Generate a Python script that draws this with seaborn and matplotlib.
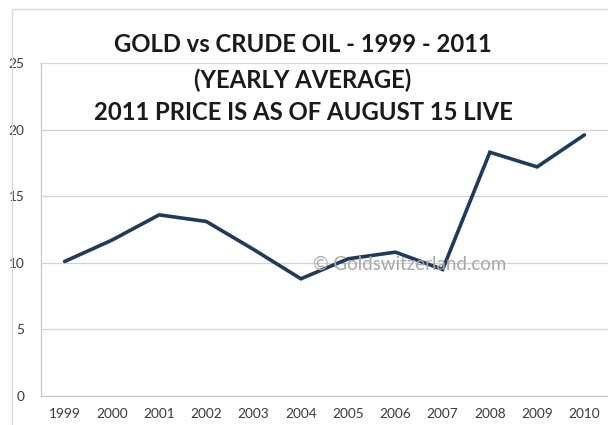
import matplotlib
matplotlib.use("Agg")
import matplotlib.pyplot as plt
import seaborn as sns
import pandas as pd
import numpy as np
from matplotlib.lines import Line2D

years = ["1999", "2000", "2001", "2002", "2003", "2004", "2005",
         "2006", "2007", "2008", "2009", "2010"]
ratio = [10.1, 11.7, 13.6, 13.1, 11.0, 8.8, 10.3, 10.8, 9.5, 18.3, 17.2, 19.6]
yticks = [0, 5, 10, 15, 20, 25]
title_lines = ["GOLD vs CRUDE OIL - 1999 - 2011",
               "(YEARLY AVERAGE)",
               "2011 PRICE IS AS OF AUGUST 15 LIVE"]
watermark = "© Goldswitzerland.com"

df = pd.DataFrame({"x": np.arange(len(years)), "ratio": ratio})

sns.set_theme(style="white")
plt.rcParams["font.family"] = ["Lato", "DejaVu Sans"]

W, H = 608, 425
fig = plt.figure(figsize=(W / 100, H / 100), dpi=100)
fig.patch.set_facecolor("white")
ax = fig.add_axes([41 / W, 1 - 396 / H, (W - 41) / W, (396 - 63) / H])

sns.lineplot(data=df, x="x", y="ratio", ax=ax, color="#203A5C",
             linewidth=2.6, solid_joinstyle="miter")

ax.set_xlim(-0.5, 11.45)
ax.set_ylim(0, 25)
ax.set_yticks(yticks)
ax.set_yticklabels([str(v) for v in yticks])
ax.set_xticks(np.arange(len(years)))
ax.set_xticklabels(years)
ax.set_xticks(np.arange(-0.5, len(years), 1), minor=True)
ax.tick_params(axis="x", which="major", length=0, pad=9, labelsize=9.8,
               labelcolor="#3a3a3a")
ax.tick_params(axis="x", which="minor", length=4, width=0.8, color="#c8c8c8",
               direction="out")
ax.tick_params(axis="y", which="major", length=4, width=0.8, color="#c8c8c8",
               pad=8, labelsize=9.8, labelcolor="#3a3a3a")
ax.set_xlabel("")
ax.set_ylabel("")
ax.grid(axis="y", color="#d4d4d4", linewidth=0.9)
ax.set_axisbelow(True)
for s in ["top", "right"]:
    ax.spines[s].set_visible(False)
for s in ["left", "bottom"]:
    ax.spines[s].set_color("#c8c8c8")
    ax.spines[s].set_linewidth(0.9)

# watermark
fig.text(410 / W, 1 - 264 / H, watermark, ha="center", va="center",
         fontsize=13.5, color="#a8a8a8", zorder=0)

# title
ys = [44, 80, 112]
for t, y in zip(title_lines, ys):
    fig.text(303 / W, 1 - y / H, t, ha="center", va="center",
             fontsize=17.2, fontweight="bold", color="#1a1a1a")

# chart frame
fig.add_artist(Line2D([12 / W, 12 / W], [0, 1 - 9 / H], transform=fig.transFigure,
                      color="#d9d9d9", linewidth=1.0))
fig.add_artist(Line2D([12 / W, 1], [1 - 9 / H, 1 - 9 / H], transform=fig.transFigure,
                      color="#d9d9d9", linewidth=1.0))

fig.savefig("out.png", dpi=100, facecolor="white")
